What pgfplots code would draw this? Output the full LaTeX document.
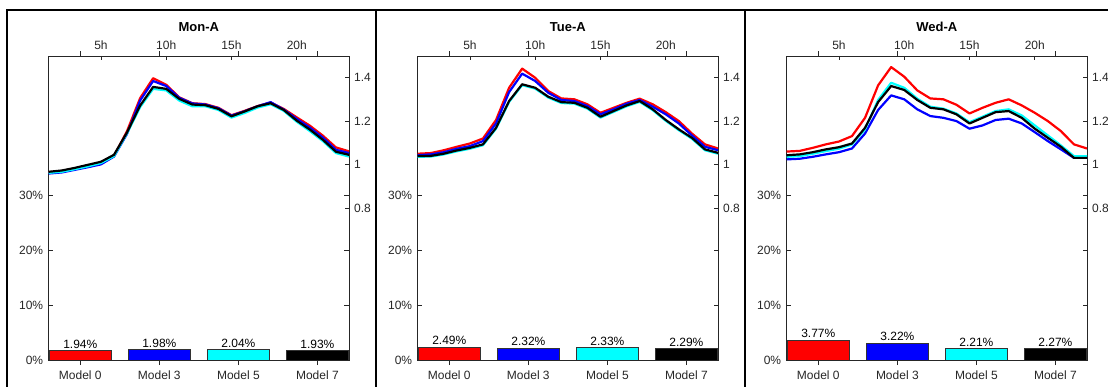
\documentclass[border=0pt]{standalone}
\usepackage{fontspec}
\setmainfont{Liberation Sans}
\usepackage{pgfplots}
\usepackage{pgfplotstable}
\pgfplotsset{compat=1.18}
\definecolor{mcyan}{RGB}{0,255,255}
\definecolor{mred}{RGB}{255,0,0}
\definecolor{mblue}{RGB}{0,0,255}

\pgfplotstableread{
h r b c k
1 0.966 0.960 0.963 0.968
2 0.970 0.965 0.968 0.974
3 0.981 0.977 0.980 0.986
4 0.994 0.989 0.993 1.000
5 1.008 1.002 1.008 1.014
6 1.040 1.038 1.040 1.046
7 1.155 1.142 1.145 1.149
8 1.306 1.295 1.265 1.272
9 1.398 1.385 1.349 1.358
10 1.368 1.362 1.342 1.349
11 1.310 1.308 1.295 1.303
12 1.283 1.282 1.269 1.277
13 1.279 1.277 1.269 1.274
14 1.262 1.260 1.252 1.257
15 1.228 1.226 1.217 1.223
16 1.248 1.246 1.238 1.245
17 1.270 1.269 1.263 1.269
18 1.286 1.288 1.278 1.283
19 1.257 1.254 1.248 1.252
20 1.218 1.211 1.198 1.203
21 1.180 1.171 1.155 1.162
22 1.134 1.125 1.109 1.115
23 1.080 1.069 1.054 1.060
24 1.062 1.054 1.038 1.046
}\monL

\pgfplotstableread{
h r b c k
1 1.051 1.044 1.037 1.040
2 1.054 1.048 1.038 1.041
3 1.067 1.058 1.048 1.051
4 1.083 1.074 1.062 1.066
5 1.098 1.086 1.074 1.078
6 1.121 1.109 1.090 1.094
7 1.206 1.190 1.166 1.170
8 1.354 1.334 1.289 1.293
9 1.442 1.419 1.366 1.370
10 1.400 1.385 1.350 1.354
11 1.339 1.331 1.309 1.313
12 1.305 1.298 1.284 1.288
13 1.301 1.293 1.281 1.285
14 1.278 1.270 1.258 1.262
15 1.239 1.232 1.217 1.221
16 1.262 1.255 1.243 1.247
17 1.285 1.281 1.269 1.273
18 1.304 1.298 1.289 1.293
19 1.278 1.267 1.251 1.255
20 1.242 1.232 1.202 1.206
21 1.201 1.190 1.159 1.163
22 1.144 1.135 1.120 1.124
23 1.094 1.083 1.067 1.071
24 1.075 1.067 1.051 1.055
}\tueL

\pgfplotstableread{
h r b c k
1 1.061 1.025 1.037 1.044
2 1.064 1.028 1.040 1.048
3 1.078 1.037 1.051 1.058
4 1.094 1.048 1.063 1.071
5 1.107 1.058 1.074 1.081
6 1.132 1.075 1.094 1.098
7 1.216 1.144 1.163 1.170
8 1.365 1.252 1.298 1.288
9 1.449 1.319 1.377 1.362
10 1.405 1.301 1.354 1.344
11 1.342 1.255 1.304 1.298
12 1.305 1.224 1.267 1.262
13 1.301 1.216 1.258 1.255
14 1.276 1.201 1.236 1.232
15 1.236 1.166 1.196 1.190
16 1.262 1.181 1.221 1.216
17 1.285 1.206 1.247 1.242
18 1.301 1.212 1.255 1.247
19 1.273 1.190 1.227 1.216
20 1.239 1.150 1.181 1.166
21 1.201 1.109 1.135 1.124
22 1.155 1.071 1.089 1.083
23 1.094 1.032 1.040 1.032
24 1.075 1.032 1.040 1.032
}\wedL

\pgfplotsset{
  panelbase/.style={scale only axis, width=300.3pt, height=304.7pt, anchor=south west,
    axis line style={black!85, line width=0.8pt},
    tick style={black!85, line width=0.8pt}, major tick length=4.5pt, tick align=inside,
    ticklabel style={font=\fontsize{12}{14}\selectfont, text=black!85},
    /pgf/number format/assume math mode=true},
  barax/.style={panelbase, xmin=0.6, xmax=4.4, ymin=0, ymax=55.4,
    xtick={1,2,3,4}, xticklabels={Model 0,Model 3,Model 5,Model 7},
    ytick={0,10,20,30}, yticklabels={0\%,10\%,20\%,30\%},
    xtick pos=both, xticklabel pos=left, ytick pos=both, yticklabel pos=left,
    xticklabel style={anchor=base, yshift=-14pt},
    yticklabel style={anchor=east, inner sep=0pt, xshift=-5.4pt},
    ybar, bar width=0.79, point meta=explicit symbolic, nodes near coords,
    every node near coord/.append style={font=\fontsize{12}{14}\selectfont, text=black, inner sep=1.5pt, anchor=south}},
  lineax/.style={panelbase, xmin=1, xmax=24, ymin=0.1, ymax=1.5,
    xtick={5,10,15,20}, xticklabels={5h,10h,15h,20h},
    ytick={0.8,1,1.2,1.4}, yticklabels={0.8,1,1.2,1.4},
    xtick pos=right, xticklabel pos=right, ytick pos=right, yticklabel pos=right,
    xticklabel style={anchor=base, yshift=6pt},
    yticklabel style={anchor=west, inner sep=0pt, xshift=5pt},
    title style={font=\bfseries\fontsize{13}{15}\selectfont, anchor=base, at={(0.5,1)}, yshift=18.1pt},
    every axis plot/.append style={line width=2.2pt, line join=round}},
}

\newcommand{\panel}[7]{%
  \begin{axis}[barax, at={(48.7pt+#1,25.3pt)}]
    \addplot[fill=mred, draw=black!80, line width=0.8pt, bar shift=0pt] coordinates {(1,#4) [#4\%]};
    \addplot[fill=mblue, draw=black!80, line width=0.8pt, bar shift=0pt] coordinates {(2,#5) [#5\%]};
    \addplot[fill=mcyan, draw=black!80, line width=0.8pt, bar shift=0pt] coordinates {(3,#6) [#6\%]};
    \addplot[fill=black, draw=black!80, line width=0.8pt, bar shift=0pt] coordinates {(4,#7) [#7\%]};
  \end{axis}
  \begin{axis}[lineax, at={(48.7pt+#1,25.3pt)}, title={#2}]
    \addplot[mred, no markers] table[x=h, y=r] {#3};
    \addplot[mblue, no markers] table[x=h, y=b] {#3};
    \addplot[mcyan, no markers] table[x=h, y=c] {#3};
    \addplot[black, no markers] table[x=h, y=k] {#3};
  \end{axis}
}

\begin{document}
\begin{tikzpicture}
\useasboundingbox (0pt,0pt) rectangle (1108pt,386pt);
\panel{0pt}{Mon-A}{\monL}{1.94}{1.98}{2.04}{1.93}
\panel{369pt}{Tue-A}{\tueL}{2.49}{2.32}{2.33}{2.29}
\panel{738pt}{Wed-A}{\wedL}{3.77}{3.22}{2.21}{2.27}
\draw[line width=2pt] (6.8pt,-10pt) -- (6.8pt,376.2pt) -- (1120pt,376.2pt);
\draw[line width=2pt] (376.2pt,-10pt) -- (376.2pt,376.2pt);
\draw[line width=2pt] (745.2pt,-10pt) -- (745.2pt,376.2pt);
\end{tikzpicture}
\end{document}
